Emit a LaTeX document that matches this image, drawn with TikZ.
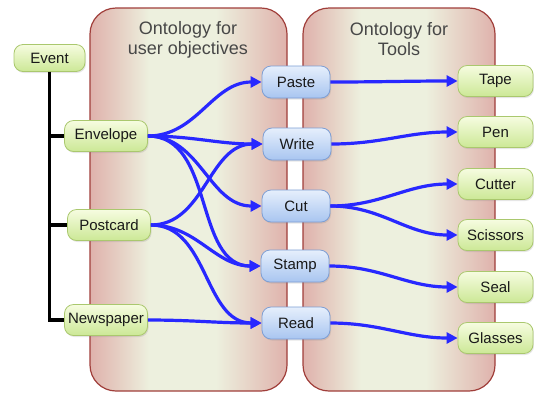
\documentclass[tikz,border=0pt]{standalone}
\usepackage{fontspec}
\setmainfont{Liberation Sans}
\usetikzlibrary{arrows.meta,shadows}

\definecolor{panelred}{RGB}{223,178,172}
\definecolor{panelmid}{RGB}{237,240,222}
\definecolor{panelline}{RGB}{160,62,58}
\definecolor{greentop}{RGB}{246,252,224}
\definecolor{greenbot}{RGB}{204,232,150}
\definecolor{greenline}{RGB}{170,200,110}
\definecolor{bluetop}{RGB}{230,239,252}
\definecolor{bluebot}{RGB}{168,197,240}
\definecolor{blueline}{RGB}{125,158,212}
\definecolor{linkblue}{RGB}{40,40,255}
\definecolor{textgray}{RGB}{25,25,25}
\colorlet{panelhalf}{panelred!55!panelmid}

\pgfdeclarehorizontalshading{panelshade}{100bp}{%
  color(0bp)=(panelred); color(25bp)=(panelred);
  color(32bp)=(panelhalf); color(40bp)=(panelmid); color(57bp)=(panelmid);
  color(67bp)=(panelhalf); color(75bp)=(panelred); color(100bp)=(panelred)}

\tikzset{
  panel/.style={draw=panelline, line width=1.2pt, rounded corners=26pt,
    shading=panelshade},
  paneltitle/.style={text=textgray!80, align=center,
    font=\fontsize{18}{20}\selectfont},
  objective/.style={rounded corners=9pt, draw=greenline, line width=0.8pt,
    top color=greentop, bottom color=greenbot, text=textgray,
    minimum width=83pt, minimum height=31pt, inner sep=1pt,
    font=\fontsize{15}{17}\selectfont,
    drop shadow={opacity=0.2, shadow xshift=1pt, shadow yshift=-1.5pt}},
  tool/.style={objective, minimum width=75pt},
  action/.style={objective, draw=blueline, top color=bluetop,
    bottom color=bluebot, minimum width=68pt, minimum height=32pt},
  treeline/.style={line width=3.5pt, line join=miter},
  link/.style={draw=linkblue, line width=3.2pt,
    -{Triangle[length=11pt,width=11pt]}, out=0, in=180}
}

\begin{document}
\begin{tikzpicture}[x=1pt,y=-1pt]
\useasboundingbox (0,0) rectangle (534,392);

% the two ontologies
\draw[panel] (90,8) rectangle (287,391);
\draw[panel] (303,8) rectangle (495,391);
\node[paneltitle] (userTitle) at (188,40) {Ontology for\\user objectives};
\node[paneltitle] (toolTitle) at (399,39) {Ontology for\\Tools};

% events
\node[objective, minimum width=71pt, minimum height=27pt] (Event) at (49.5,58) {Event};
\node[objective] (Envelope) at (106,136) {Envelope};
\node[objective] (Postcard) at (109,225) {Postcard};
\node[objective] (Newspaper) at (106,320) {Newspaper};

\draw[treeline] (Event.south) |- (Newspaper.west);
\draw[treeline] (Event.south) |- (Envelope.west);
\draw[treeline] (Event.south) |- (Postcard.west);

% objectives
\node[action] (Paste) at (296,82) {Paste};
\node[action] (Write) at (297,144) {Write};
\node[action] (Cut) at (296,206) {Cut};
\node[action] (Stamp) at (295,266) {Stamp};
\node[action] (Read) at (296,323) {Read};

% tools
\node[tool] (Tape) at (495.5,81) {Tape};
\node[tool] (Pen) at (495.5,132) {Pen};
\node[tool] (Cutter) at (495.5,184) {Cutter};
\node[tool] (Scissors) at (495.5,235) {Scissors};
\node[tool] (Seal) at (495.5,287) {Seal};
\node[tool] (Glasses) at (495.5,338) {Glasses};

% event -> objective
\foreach \goal in {Paste,Write,Cut,Stamp}
  \draw[link] (Envelope.east) to (\goal.west);
\foreach \goal in {Write,Stamp,Read}
  \draw[link] (Postcard.east) to (\goal.west);
\draw[link] (Newspaper.east) to (Read.west);

% objective -> tool
\draw[link] (Paste.east) to (Tape.west);
\draw[link] (Write.east) to (Pen.west);
\draw[link] (Cut.east) to (Cutter.west);
\draw[link] (Cut.east) to (Scissors.west);
\draw[link] (Stamp.east) to (Seal.west);
\draw[link] (Read.east) to (Glasses.west);
\end{tikzpicture}
\end{document}
